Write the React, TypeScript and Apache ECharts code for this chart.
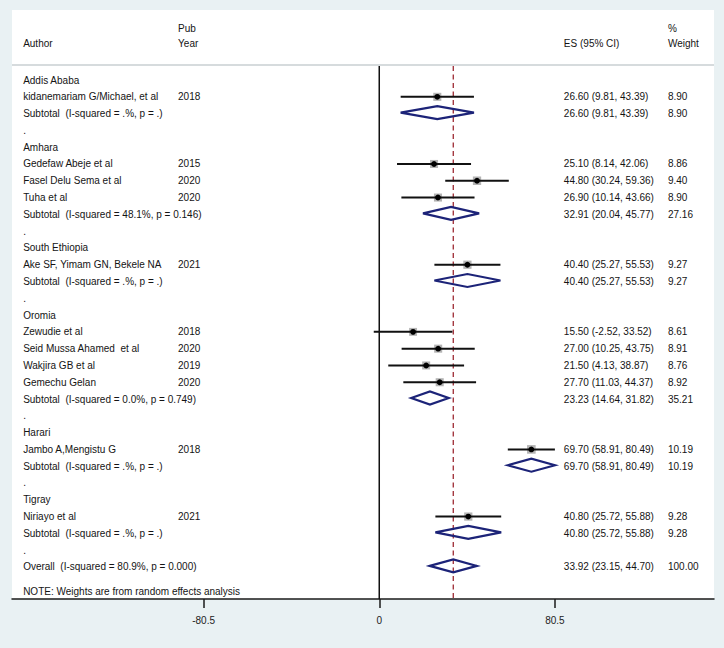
import React, { useEffect, useRef } from "react";
import * as echarts from "echarts";

// ---------- data ----------
const rowLabels: string[] = [
  "Addis Ababa",
  "kidanemariam G/Michael, et al",
  "Subtotal  (I-squared = .%, p = .)",
  ".",
  "Amhara",
  "Gedefaw Abeje et al",
  "Fasel Delu Sema et al",
  "Tuha et al",
  "Subtotal  (I-squared = 48.1%, p = 0.146)",
  ".",
  "South Ethiopia",
  "Ake SF, Yimam GN, Bekele NA",
  "Subtotal  (I-squared = .%, p = .)",
  ".",
  "Oromia",
  "Zewudie et al",
  "Seid Mussa Ahamed  et al",
  "Wakjira GB et al",
  "Gemechu Gelan",
  "Subtotal  (I-squared = 0.0%, p = 0.749)",
  ".",
  "Harari",
  "Jambo A,Mengistu G",
  "Subtotal  (I-squared = .%, p = .)",
  ".",
  "Tigray",
  "Niriayo et al",
  "Subtotal  (I-squared = .%, p = .)",
  ".",
  "Overall  (I-squared = 80.9%, p = 0.000)",
];
const rowKinds: string[] = [
  "group", "study", "subtotal", "spacer",
  "group", "study", "study", "study", "subtotal", "spacer",
  "group", "study", "subtotal", "spacer",
  "group", "study", "study", "study", "study", "subtotal", "spacer",
  "group", "study", "subtotal", "spacer",
  "group", "study", "subtotal", "spacer",
  "overall",
];
const rowYears: string[] = [
  "", "2018", "", "",
  "", "2015", "2020", "2020", "", "",
  "", "2021", "", "",
  "", "2018", "2020", "2019", "2020", "", "",
  "", "2018", "", "",
  "", "2021", "", "",
  "",
];
const rowES: (number | null)[] = [
  null, 26.6, 26.6, null,
  null, 25.1, 44.8, 26.9, 32.91, null,
  null, 40.4, 40.4, null,
  null, 15.5, 27.0, 21.5, 27.7, 23.23, null,
  null, 69.7, 69.7, null,
  null, 40.8, 40.8, null,
  33.92,
];
const rowLo: (number | null)[] = [
  null, 9.81, 9.81, null,
  null, 8.14, 30.24, 10.14, 20.04, null,
  null, 25.27, 25.27, null,
  null, -2.52, 10.25, 4.13, 11.03, 14.64, null,
  null, 58.91, 58.91, null,
  null, 25.72, 25.72, null,
  23.15,
];
const rowHi: (number | null)[] = [
  null, 43.39, 43.39, null,
  null, 42.06, 59.36, 43.66, 45.77, null,
  null, 55.53, 55.53, null,
  null, 33.52, 43.75, 38.87, 44.37, 31.82, null,
  null, 80.49, 80.49, null,
  null, 55.88, 55.88, null,
  44.7,
];
const rowWeight: (number | null)[] = [
  null, 8.9, 8.9, null,
  null, 8.86, 9.4, 8.9, 27.16, null,
  null, 9.27, 9.27, null,
  null, 8.61, 8.91, 8.76, 8.92, 35.21, null,
  null, 10.19, 10.19, null,
  null, 9.28, 9.28, null,
  100.0,
];
const xTickValues: number[] = [-80.5, 0, 80.5];
const overallES = 33.92;

const headerTop: string[] = ["", "Pub", "", "%"];
const headerBottom: string[] = ["Author", "Year", "ES (95% CI)", "Weight"];
const noteText = "NOTE: Weights are from random effects analysis";

// ---------- layout constants (data units on the axes) ----------
const X_MIN = -168.3;
const X_MAX = 153.4;
const Y_MIN = -4.17;
const Y_MAX = 30.91;
const COL_X = [-163.2, -92.2, 84.6, 132.3]; // author, year, ES, weight
const HEADER_ROW_TOP = -3.04;
const HEADER_ROW_BOTTOM = -2.2;
const SEPARATOR_ROW = -0.89;
const NOTE_ROW = 30.49;

const FONT = '10px "Liberation Sans", Arial, Helvetica, sans-serif';
const TEXT_COLOR = "#141414";
const NAVY = "#1c2378";

const fmt = (v: number) => v.toFixed(2);

export default function App() {
  const ref = useRef<HTMLDivElement>(null);

  useEffect(() => {
    document.body.style.margin = "0";
    if (!ref.current) return;
    const chart = echarts.init(ref.current, undefined, { renderer: "svg" });

    const rowIdx = rowLabels.map((_, i) => i);

    const studyData = rowIdx
      .filter((i) => rowKinds[i] === "study")
      .map((i) => [rowES[i], i, rowLo[i], rowHi[i], rowWeight[i]]);
    const diamondData = rowIdx
      .filter((i) => rowKinds[i] === "subtotal" || rowKinds[i] === "overall")
      .map((i) => [rowES[i], i, rowLo[i], rowHi[i]]);
    const textData = rowIdx.map((i) => [0, i, i]);

    const option: any = {
      animation: false,
      backgroundColor: "#e9f1f3",
      grid: {
        left: 12,
        right: 10,
        top: 10,
        bottom: 49,
        show: true,
        backgroundColor: "#ffffff",
        borderWidth: 0,
        containLabel: false,
        outerBoundsMode: "none",
      },
      xAxis: {
        type: "value",
        min: X_MIN,
        max: X_MAX,
        position: "bottom",
        axisLine: { show: true, onZero: false, lineStyle: { color: "#1a1a1a", width: 1.5 } },
        axisTick: {
          show: true,
          customValues: xTickValues,
          length: 9,
          lineStyle: { color: "#1a1a1a", width: 1.5 },
        },
        axisLabel: {
          show: true,
          customValues: xTickValues,
          margin: 16,
          color: "#222222",
          fontSize: 10,
          fontFamily: '"Liberation Sans", Arial, sans-serif',
          formatter: (v: number) => String(v),
        },
        splitLine: { show: false },
      },
      yAxis: {
        type: "value",
        inverse: true,
        min: Y_MIN,
        max: Y_MAX,
        show: false,
      },
      series: [
        {
          // reference lines: header separator, null line, overall line
          type: "custom",
          data: [[overallES, 0]],
          encode: { x: 0, y: 1 },
          renderItem: (params: any, api: any) => {
            const sepL = api.coord([X_MIN, SEPARATOR_ROW]);
            const sepR = api.coord([X_MAX, SEPARATOR_ROW]);
            const zTop = api.coord([0, SEPARATOR_ROW]);
            const zBot = api.coord([0, Y_MAX]);
            const oTop = api.coord([api.value(0), SEPARATOR_ROW]);
            const oBot = api.coord([api.value(0), Y_MAX]);
            return {
              type: "group",
              children: [
                {
                  type: "line",
                  shape: { x1: sepL[0], y1: sepL[1], x2: sepR[0], y2: sepR[1] },
                  style: { stroke: "#c9cfd2", lineWidth: 1.6 },
                },
                {
                  type: "line",
                  shape: { x1: zTop[0], y1: zTop[1] + 1, x2: zBot[0], y2: zBot[1] },
                  style: { stroke: "#111111", lineWidth: 1.5 },
                },
                {
                  type: "line",
                  shape: { x1: oTop[0], y1: oTop[1] + 1, x2: oBot[0], y2: oBot[1] },
                  style: { stroke: "#9e2a33", lineWidth: 1.3, lineDash: [5, 3.5] },
                },
              ],
            };
          },
          z: 1,
        },
        {
          // study estimates
          type: "custom",
          data: studyData,
          encode: { x: 0, y: 1 },
          renderItem: (params: any, api: any) => {
            const es = api.value(0);
            const row = api.value(1);
            const lo = api.coord([api.value(2), row]);
            const hi = api.coord([api.value(3), row]);
            const c = api.coord([es, row]);
            const w = api.value(4);
            const box = 2.7 * Math.sqrt(w);
            return {
              type: "group",
              children: [
                {
                  type: "rect",
                  shape: { x: c[0] - box / 2, y: c[1] - box / 2, width: box, height: box },
                  style: { fill: "#b4b4b4" },
                },
                {
                  type: "line",
                  shape: { x1: lo[0], y1: lo[1], x2: hi[0], y2: hi[1] },
                  style: { stroke: "#111111", lineWidth: 2 },
                },
                {
                  type: "circle",
                  shape: { cx: c[0], cy: c[1], r: 2.9 },
                  style: { fill: "#000000" },
                },
              ],
            };
          },
          z: 3,
        },
        {
          // pooled diamonds
          type: "custom",
          data: diamondData,
          encode: { x: 0, y: 1 },
          renderItem: (params: any, api: any) => {
            const row = api.value(1);
            const c = api.coord([api.value(0), row]);
            const lo = api.coord([api.value(2), row]);
            const hi = api.coord([api.value(3), row]);
            const h = 6.5;
            return {
              type: "polygon",
              shape: {
                points: [
                  [lo[0], c[1] - 1],
                  [c[0], c[1] - 1 - h],
                  [hi[0], c[1] - 1],
                  [c[0], c[1] - 1 + h],
                ],
              },
              style: { fill: "none", stroke: NAVY, lineWidth: 2.2 },
            };
          },
          z: 3,
        },
        {
          // text columns
          type: "custom",
          data: textData,
          encode: { x: 0, y: 1 },
          renderItem: (params: any, api: any) => {
            const i = api.value(2);
            const y = api.coord([0, i])[1];
            const children: any[] = [];
            const txt = (col: number, s: string, yy: number) => {
              children.push({
                type: "text",
                x: api.coord([COL_X[col], 0])[0],
                y: yy,
                style: {
                  text: s,
                  font: FONT,
                  fill: TEXT_COLOR,
                  align: "left",
                  verticalAlign: "middle",
                },
              });
            };
            txt(0, rowLabels[i], y);
            if (rowYears[i]) txt(1, rowYears[i], y);
            const es = rowES[i];
            const lo = rowLo[i];
            const hi = rowHi[i];
            const w = rowWeight[i];
            if (es !== null && lo !== null && hi !== null) {
              txt(2, `${fmt(es)} (${fmt(lo)}, ${fmt(hi)})`, y);
            }
            if (w !== null) txt(3, fmt(w), y);
            if (i === 0) {
              const yt = api.coord([0, HEADER_ROW_TOP])[1];
              const yb = api.coord([0, HEADER_ROW_BOTTOM])[1];
              headerTop.forEach((s, k) => s && txt(k, s, yt));
              headerBottom.forEach((s, k) => s && txt(k, s, yb));
              txt(0, noteText, api.coord([0, NOTE_ROW])[1]);
            }
            return { type: "group", children };
          },
          z: 4,
        },
      ],
    };

    chart.setOption(option);
    return () => chart.dispose();
  }, []);

  return (
    <div
      ref={ref}
      style={{ width: 724, height: 648, background: "#e9f1f3" }}
    />
  );
}
